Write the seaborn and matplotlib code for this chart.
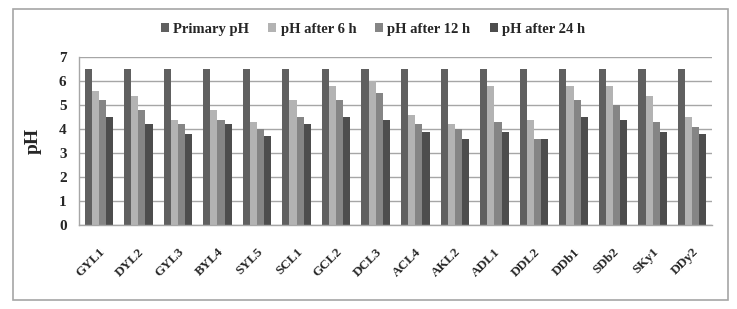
import pandas as pd
import numpy as np
import matplotlib
matplotlib.use('Agg')
import matplotlib.pyplot as plt
import seaborn as sns
from matplotlib.patches import Rectangle

samples = ['GYL1', 'DYL2', 'GYL3', 'BYL4', 'SYL5', 'SCL1', 'GCL2', 'DCL3',
           'ACL4', 'AKL2', 'ADL1', 'DDL2', 'DDb1', 'SDb2', 'SKy1', 'DDy2']
primary = [6.5] * 16
after_6h = [5.6, 5.4, 4.4, 4.8, 4.3, 5.2, 5.8, 6.0, 4.6, 4.2, 5.8, 4.4, 5.8, 5.8, 5.4, 4.5]
after_12h = [5.2, 4.8, 4.2, 4.4, 4.0, 4.5, 5.2, 5.5, 4.2, 4.0, 4.3, 3.6, 5.2, 5.0, 4.3, 4.1]
after_24h = [4.5, 4.2, 3.8, 4.2, 3.7, 4.2, 4.5, 4.4, 3.9, 3.6, 3.9, 3.6, 4.5, 4.4, 3.9, 3.8]

series = ['Primary pH', 'pH after 6 h', 'pH after 12 h', 'pH after 24 h']
colors = ['#606060', '#b3b3b3', '#858585', '#4d4d4d']

rows = []
for name, vals in zip(series, [primary, after_6h, after_12h, after_24h]):
    for s, v in zip(samples, vals):
        rows.append([s, name, v])
df = pd.DataFrame(rows, columns=['sample', 'series', 'pH'])

sns.set_style('white')
plt.rcParams['font.family'] = ['Liberation Serif', 'DejaVu Serif']
plt.rcParams['font.weight'] = 'bold'

fig = plt.figure(figsize=(7.37, 3.09), dpi=100)
fig.patches.append(Rectangle((0.0176, 0.029), 0.970, 0.942, transform=fig.transFigure,
                             fill=False, edgecolor='#a6a6a6', linewidth=1.2))
ax = fig.add_axes([0.1072, 0.2718, 0.8589, 0.5428])

sns.barplot(data=df, x='sample', y='pH', hue='series', palette=colors,
            width=0.72, saturation=1, linewidth=0, ax=ax, legend=True)

ax.set_ylim(0, 7)
ax.set_xlim(-0.5, 15.5)
ax.set_yticks(range(8))
ax.yaxis.grid(True, color='#a6a6a6', linewidth=1)
ax.set_axisbelow(True)
for sp in ['top', 'right']:
    ax.spines[sp].set_visible(False)
for sp in ['left', 'bottom']:
    ax.spines[sp].set_color('#a6a6a6')
    ax.spines[sp].set_linewidth(1)

ax.tick_params(axis='y', length=5, color='#a6a6a6', labelsize=11, pad=4)
ax.tick_params(axis='x', length=0, labelsize=9.5, pad=15)
for lab in ax.get_yticklabels():
    lab.set_fontweight('bold')
for lab in ax.get_xticklabels():
    lab.set_rotation(45)
    lab.set_ha('right')
    lab.set_va('top')
    lab.set_rotation_mode('anchor')
    lab.set_fontweight('bold')

ax.set_xlabel('')
ax.set_ylabel('pH', fontsize=14, fontweight='bold', labelpad=12)

handles, labels = ax.get_legend_handles_labels()
ax.legend_.remove()
fig.legend(handles, labels, loc='center', bbox_to_anchor=(0.506, 0.906), ncol=4,
           frameon=False, prop={'size': 10.5, 'weight': 'bold'},
           handlelength=0.55, handleheight=0.55, handletextpad=0.3, columnspacing=1.3)

fig.savefig('out.png', dpi=100)
